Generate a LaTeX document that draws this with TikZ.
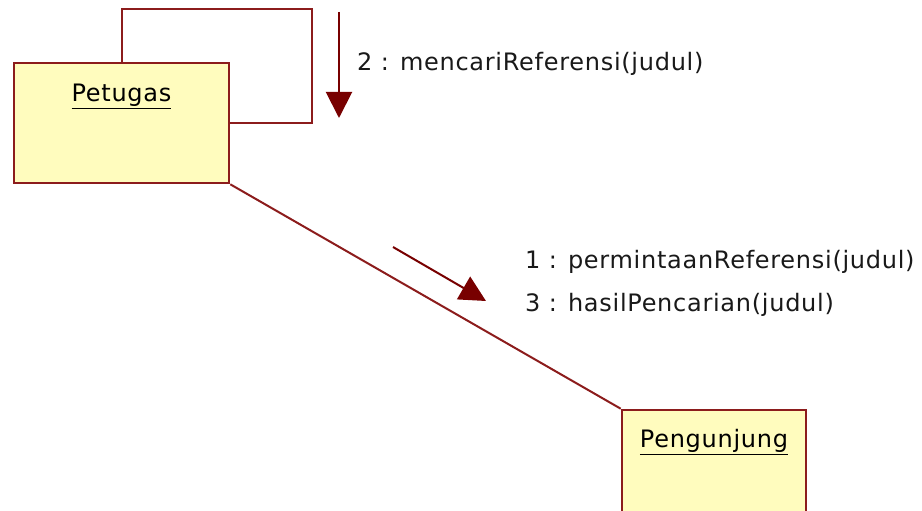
\documentclass[tikz,border=0pt]{standalone}
\usepackage{fontspec}
\usetikzlibrary{arrows.meta}
\newfontfamily\umlfont[LetterSpace=3]{DejaVu Sans}
\definecolor{umlline}{RGB}{140,28,28}
\definecolor{umlarrow}{RGB}{120,0,0}
\definecolor{umlfill}{RGB}{255,252,190}

\begin{document}
\begin{tikzpicture}[
x=1pt,y=-1pt,
font=\umlfont\fontsize{24}{28}\selectfont,
object/.style={rectangle,draw=umlline,fill=umlfill,line width=2.6pt},
link/.style={draw=umlline,line width=2pt},
msg/.style={draw=umlarrow,line width=2pt,-{Triangle[length=26pt,width=26pt]}},
msgtext/.style={anchor=west,inner sep=0pt,text=black!90},
]
\clip (0,0) rectangle (922,511);
\fill[white] (0,0) rectangle (922,511);

% objects
\node[object,minimum width=215pt,minimum height=120pt,
  label={[anchor=north,yshift=-19pt]north:\underline{Petugas}}] (petugas) at (121.5,123) {};
\node[object,minimum width=184pt,minimum height=130pt,
  label={[anchor=north,yshift=-17pt]north:\underline{Pengunjung}}] (pengunjung) at (714,475) {};

% links
\draw[link] (petugas.north) |- (312,9) |- (petugas.east);
\draw[link] (petugas.south east) -- (pengunjung.north west);

% messages
\coordinate (m2a) at (339,12);
\coordinate (m2b) at (339,118);
\draw[msg] (m2a) -- (m2b);
\node[msgtext] (m2) at (357,64) {2 : mencariReferensi(judul)};

\coordinate (m1a) at (393,247);
\coordinate (m1b) at (486,301);
\draw[msg] (m1a) -- (m1b);
\node[msgtext] (m1) at (525,262) {1 : permintaanReferensi(judul)};
\node[msgtext] (m3) at (525,305) {3 : hasilPencarian(judul)};
\end{tikzpicture}
\end{document}
